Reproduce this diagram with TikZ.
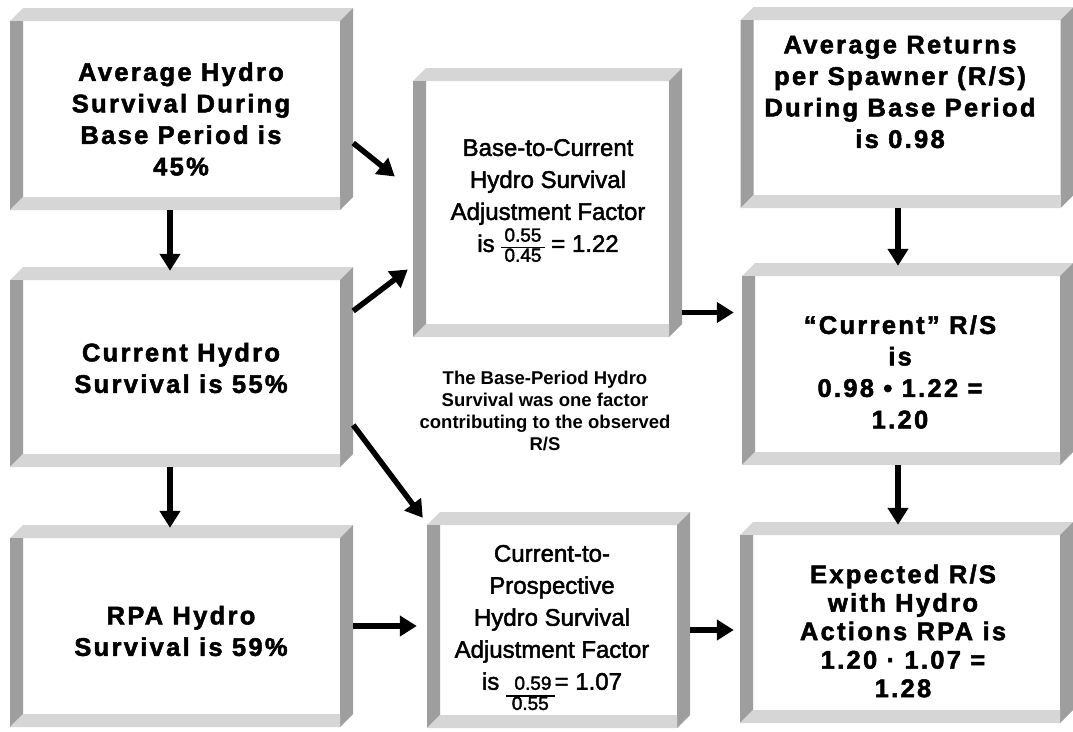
\documentclass[tikz,border=0pt]{standalone}
\usepackage{fontspec}
\setmainfont{Liberation Sans}
\newfontfamily\panelfont[LetterSpace=9,FakeBold=2]{Liberation Sans}
\newfontfamily\factorfont[FakeBold=2]{Liberation Sans}
\usetikzlibrary{arrows.meta,calc}
\newcommand\bevw{13pt}
\newcommand\fracstack[3][c]{{\fontsize{19}{17}\selectfont\setlength\arrayrulewidth{1.8pt}%
  \begin{tabular}[#1]{@{\,}c@{\,}}#2\\\hline #3\end{tabular}}}
\tikzset{
  bevlight/.style={fill=black!16},
  bevdark/.style={fill=black!38},
  panel/.style={rectangle, fill=white, inner sep=0pt,
    path picture={
      \path (path picture bounding box.north west) coordinate (pnw)
            (path picture bounding box.north east) coordinate (pne)
            (path picture bounding box.south west) coordinate (psw)
            (path picture bounding box.south east) coordinate (pse);
      \fill[bevlight] ([yshift=-\bevw]pnw) -- ([xshift=\bevw]pnw) -- (pne)
        -- ([shift={(-\bevw,-\bevw)}]pne) -- cycle;
      \fill[bevdark] (pne) -- ([yshift=\bevw]pse) -- ([xshift=-\bevw]pse)
        -- ([shift={(-\bevw,-\bevw)}]pne) -- cycle;
      \fill[bevdark] ([yshift=-\bevw]pnw) -- ([shift={(\bevw,-\bevw)}]pnw)
        -- ([shift={(\bevw,\bevw)}]psw) -- (psw) -- cycle;
      \fill[bevlight] (psw) -- ([shift={(\bevw,\bevw)}]psw)
        -- ([shift={(-\bevw,\bevw)}]pse) -- ([xshift=-\bevw]pse) -- cycle;
    }},
  boldtxt/.style={font=\panelfont\bfseries\fontsize{25.5}{31.5}\selectfont, align=center},
  factortxt/.style={font=\factorfont\fontsize{24}{32}\selectfont, align=center},
  notetxt/.style={font=\bfseries\fontsize{18.5}{22}\selectfont, align=center},
  flow/.style={line width=5.5pt, -{Triangle[length=17pt,width=20pt]}}
}
\begin{document}
\begin{tikzpicture}[x=1pt,y=-1pt]
  \useasboundingbox (0,0) rectangle (1073,731);

  \node[panel, minimum width=343pt, minimum height=202pt] (avgsurv) at (181.5,109) {};
  \node[panel, minimum width=343pt, minimum height=200pt] (cursurv) at (181.5,367) {};
  \node[panel, minimum width=343pt, minimum height=202pt] (rpasurv) at (181.5,626) {};
  \node[panel, minimum width=269pt, minimum height=269pt] (basefac) at (547.5,202.5) {};
  \node[panel, minimum width=263pt, minimum height=216pt] (prosfac) at (558.5,620) {};
  \node[panel, minimum width=333pt, minimum height=201pt] (avgrs) at (907,107.5) {};
  \node[panel, minimum width=331pt, minimum height=202pt] (currs) at (907.5,364) {};
  \node[panel, minimum width=333pt, minimum height=201pt] (exprs) at (906.5,622.5) {};

  \node[boldtxt] (avgsurv-t) at (181,119) {Average Hydro\\Survival During\\Base Period is\\45\%};
  \node[boldtxt] (cursurv-t) at (181,368) {Current Hydro\\Survival is 55\%};
  \node[boldtxt] (rpasurv-t) at (181,631) {RPA Hydro\\Survival is 59\%};
  \node[factortxt] (basefac-t) at (548,203)
    {Base-to-Current\\Hydro Survival\\Adjustment Factor\\is \fracstack{0.55}{0.45} = 1.22};
  \node[factortxt] (prosfac-t) at (552,630)
    {Current-to-\\Prospective\\Hydro Survival\\Adjustment Factor\\is \fracstack[t]{\ 0.59\ }{0.55}= 1.07};
  \node[boldtxt] (avgrs-t) at (900,92) {Average Returns\\per Spawner (R/S)\\During Base Period\\is 0.98};
  \node[boldtxt] (currs-t) at (900,372) {“Current” R/S\\is\\0.98 • 1.22 =\\1.20};
  \node[boldtxt, font=\panelfont\bfseries\fontsize{25.5}{28.5}\selectfont] (exprs-t) at (903,631)
    {Expected R/S\\with Hydro\\Actions RPA is\\1.20 · 1.07 =\\1.28};
  \node[notetxt] (note) at (545,411)
    {The Base-Period Hydro\\Survival was one factor\\contributing to the observed\\R/S};

  \draw[flow] ([xshift=-11.5pt]avgsurv.south) -- ([xshift=-11.5pt,yshift=-4pt]cursurv.north);
  \draw[flow] ([xshift=-11.5pt]cursurv.south) -- ([xshift=-11.5pt,yshift=-3pt]rpasurv.north);
  \draw[flow] ([yshift=-34pt]avgsurv.east) -- ([xshift=-18pt,yshift=26pt]basefac.west);
  \draw[flow] ([yshift=56pt]cursurv.east) -- ([xshift=-5pt,yshift=-67pt]basefac.west);
  \draw[flow] ([yshift=-58pt]cursurv.east) -- ([xshift=-4pt,yshift=-6pt]prosfac.north west);
  \draw[flow, shorten >=10pt] (rpasurv.east) -- (rpasurv.east -| prosfac.west);
  \coordinate (pe) at ([yshift=-10pt]prosfac.east);
  \draw[flow, shorten >=6pt] (pe) -- (pe -| exprs.west);
  \coordinate (bc) at ([yshift=-110pt]basefac.east);
  \draw[flow, shorten >=8pt] (bc) -- (bc -| currs.west);
  \draw[flow] ([xshift=-9pt]avgrs.south) -- ([xshift=-9.5pt,yshift=-3pt]currs.north);
  \draw[flow] ([xshift=-9.5pt]currs.south) -- ([xshift=-8.5pt,yshift=-3pt]exprs.north);
\end{tikzpicture}
\end{document}
